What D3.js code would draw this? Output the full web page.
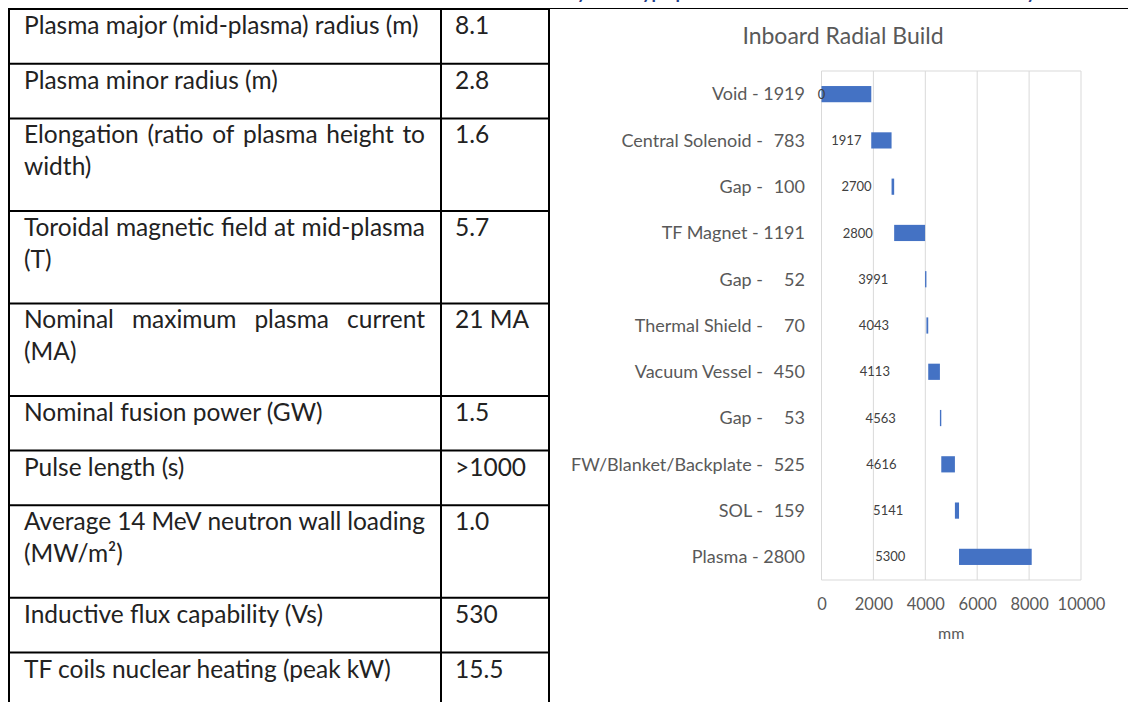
<!DOCTYPE html>
<html>
<head>
<meta charset="utf-8">
<script src="https://cdn.jsdelivr.net/npm/d3@7"></script>
<style>
  body { margin: 0; background: #fff; }
  svg text { font-family: Lato, "Open Sans", sans-serif; }
</style>
</head>
<body>
<svg id="page" width="1130" height="702"></svg>
<script>
// table: parameter text (one entry per printed line) and value
var paramLines = [
    ["Plasma major (mid-plasma) radius (m)"],
    ["Plasma minor radius (m)"],
    ["Elongation (ratio of plasma height to", "width)"],
    ["Toroidal magnetic field at mid-plasma", "(T)"],
    ["Nominal maximum plasma current", "(MA)"],
    ["Nominal fusion power (GW)"],
    ["Pulse length (s)"],
    ["Average 14 MeV neutron wall loading", "(MW/m²)"],
    ["Inductive flux capability (Vs)"],
    ["TF coils nuclear heating (peak kW)"]
];
var paramValues = ["8.1", "2.8", "1.6", "5.7", "21 MA", "1.5", ">1000", "1.0", "530", "15.5"];

// chart: inboard radial build, stacked start + thickness (mm)
var layerNames = ["Void", "Central Solenoid", "Gap", "TF Magnet", "Gap", "Thermal Shield",
                  "Vacuum Vessel", "Gap", "FW/Blanket/Backplate", "SOL", "Plasma"];
var layerStart = [0, 1917, 2700, 2800, 3991, 4043, 4113, 4563, 4616, 5141, 5300];
var layerThick = [1919, 783, 100, 1191, 52, 70, 450, 53, 525, 159, 2800];
var xTicks = [0, 2000, 4000, 6000, 8000, 10000];

var svg = d3.select("#page");

// caption above, mostly cut off by the page top
svg.append("text")
    .attr("x", 556).attr("y", -1)
    .attr("font-size", 18).attr("font-weight", "bold")
    .attr("fill", "#1f3c88")
    .text("Key ITER-type parameters and inboard radial build summary");

// ---- table ----
var tbl = { left: 9, div: 441, right: 549, top: 9, textX: 24, valX: 455, fs: 24.5 };
var rowH = function(n) { return n === 1 ? 54.7 : 92.5; };

var rowTops = [];
var yy = tbl.top;
paramLines.forEach(function(l) { rowTops.push(yy); yy += rowH(l.length); });

var tg = svg.append("g").attr("class", "table");

tg.selectAll("line.hrow")
    .data(rowTops)
    .enter().append("line")
    .attr("class", "hrow")
    .attr("x1", tbl.left).attr("x2", tbl.right)
    .attr("y1", d => d).attr("y2", d => d)
    .attr("stroke", "#000").attr("stroke-width", 2);

[tbl.left, tbl.div, tbl.right].forEach(function(x) {
    tg.append("line")
        .attr("x1", x).attr("x2", x)
        .attr("y1", tbl.top - 1).attr("y2", 702)
        .attr("stroke", "#000").attr("stroke-width", 2);
});

// top rule continues across the page
svg.append("line")
    .attr("x1", tbl.right).attr("x2", 1128)
    .attr("y1", 8.5).attr("y2", 8.5)
    .attr("stroke", "#000").attr("stroke-width", 1.2);

var lineGap = 32;
var colWidth = 401;

paramLines.forEach(function(lines, i) {
    var base = rowTops[i] + 25;
    lines.forEach(function(txt, j) {
        var ty = base + j * lineGap;
        if (lines.length > 1 && j === 0) {
            // justified first line: spread the words over the column width
            var words = txt.split(" ");
            var ws = words.map(function(w) {
                var t = tg.append("text").attr("font-size", tbl.fs).text(w);
                var len = t.node().getComputedTextLength();
                t.remove();
                return len;
            });
            var gap = (colWidth - d3.sum(ws)) / (words.length - 1);
            var cx = tbl.textX;
            words.forEach(function(w, k) {
                tg.append("text")
                    .attr("x", cx).attr("y", ty)
                    .attr("font-size", tbl.fs).attr("fill", "#222")
                    .text(w);
                cx += ws[k] + gap;
            });
        } else {
            tg.append("text")
                .attr("x", tbl.textX).attr("y", ty)
                .attr("font-size", tbl.fs).attr("fill", "#222")
                .text(txt);
        }
    });
    tg.append("text")
        .attr("x", tbl.valX).attr("y", base)
        .attr("font-size", tbl.fs).attr("fill", "#222")
        .text(paramValues[i]);
});

// ---- chart ----
var plot = { left: 821.5, right: 1081, top: 71, bottom: 580 };

var x = d3.scaleLinear()
    .domain([0, 10000])
    .range([plot.left, plot.right]);

var y = d3.scaleBand()
    .domain(d3.range(layerNames.length))
    .range([plot.top, plot.bottom])
    .paddingInner(0.65)
    .paddingOuter(0.325);

var cg = svg.append("g").attr("class", "chart");

cg.append("text")
    .attr("x", 843).attr("y", 44)
    .attr("text-anchor", "middle")
    .attr("font-size", 23).attr("fill", "#595959")
    .text("Inboard Radial Build");

// gridlines and plot frame
cg.selectAll("line.grid")
    .data(xTicks)
    .enter().append("line")
    .attr("class", "grid")
    .attr("x1", d => x(d)).attr("x2", d => x(d))
    .attr("y1", plot.top).attr("y2", plot.bottom)
    .attr("stroke", "#d9d9d9").attr("stroke-width", 1);

[plot.top, plot.bottom].forEach(function(v) {
    cg.append("line")
        .attr("x1", plot.left).attr("x2", plot.right)
        .attr("y1", v).attr("y2", v)
        .attr("stroke", "#d9d9d9").attr("stroke-width", 1);
});

// thickness bars (the start segment is invisible)
cg.selectAll("rect.bar")
    .data(layerThick)
    .enter().append("rect")
    .attr("class", "bar")
    .attr("x", (d, i) => x(layerStart[i]))
    .attr("width", (d, i) => x(layerStart[i] + d) - x(layerStart[i]))
    .attr("y", (d, i) => y(i))
    .attr("height", y.bandwidth())
    .attr("fill", "#4472c4");

// start value labels, centred in the hidden segment
cg.selectAll("text.start")
    .data(layerStart)
    .enter().append("text")
    .attr("class", "start")
    .attr("x", d => x(d / 2))
    .attr("y", (d, i) => y(i) + y.bandwidth() / 2)
    .attr("dy", "0.35em")
    .attr("text-anchor", "middle")
    .attr("font-size", 13).attr("fill", "#404040")
    .text(d => d);

// category labels "Name - thickness"
layerNames.forEach(function(name, i) {
    var cy = y(i) + y.bandwidth() / 2;
    var t = layerThick[i];
    if (t >= 1000) {
        cg.append("text")
            .attr("x", 805).attr("y", cy).attr("dy", "0.35em")
            .attr("text-anchor", "end")
            .attr("font-size", 18).attr("fill", "#595959")
            .text(name + " - " + t);
    } else {
        cg.append("text")
            .attr("x", 763).attr("y", cy).attr("dy", "0.35em")
            .attr("text-anchor", "end")
            .attr("font-size", 18).attr("fill", "#595959")
            .text(name + " -");
        cg.append("text")
            .attr("x", 805).attr("y", cy).attr("dy", "0.35em")
            .attr("text-anchor", "end")
            .attr("font-size", 18).attr("fill", "#595959")
            .text(t);
    }
});

var xAxis = cg.append("g")
    .attr("transform", "translate(0," + plot.bottom + ")")
    .call(d3.axisBottom(x).tickValues(xTicks).tickSize(0).tickPadding(18).tickFormat(d3.format("d")));
xAxis.select(".domain").remove();
xAxis.selectAll("text")
    .attr("font-size", 16.5).attr("fill", "#595959")
    .style("font-family", "Lato, sans-serif");

cg.append("text")
    .attr("x", (plot.left + plot.right) / 2).attr("y", 639)
    .attr("text-anchor", "middle")
    .attr("font-size", 16).attr("fill", "#595959")
    .text("mm");
</script>
</body>
</html>
